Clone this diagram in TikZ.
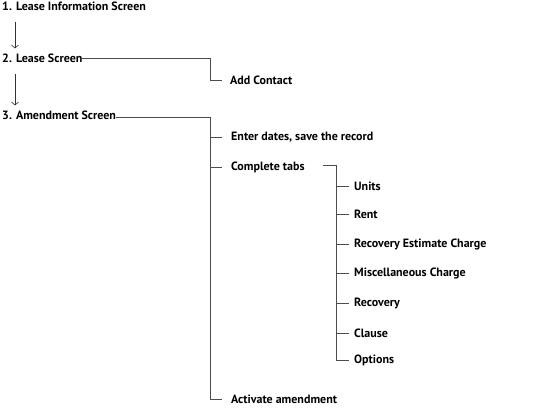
\documentclass[tikz,border=0pt]{standalone}
\usepackage{fontspec}
\setmainfont{PT Sans}
\usetikzlibrary{arrows.meta}

\begin{document}
\begin{tikzpicture}[x=1pt,y=-1pt,
  step text/.style={anchor=west, inner sep=1pt, font=\fontsize{12}{14}\selectfont\bfseries},
  link/.style={draw=black!70, line width=0.9pt},
  flow/.style={draw=black!80, line width=0.6pt, -{Straight Barb[length=3pt,width=7pt]}}]

 \useasboundingbox (0,0) rectangle (548,414);

 % main screens
 \node[step text] (lis) at (1,6) {1. Lease Information Screen};
 \node[step text] (ls)  at (1,58) {2. Lease Screen};
 \node[step text] (ams) at (1,115) {3. Amendment Screen};

 \draw[flow] ([xshift=14pt,yshift=-10pt]lis.south west) -- ([xshift=14pt,yshift=4pt]ls.north west);
 \draw[flow] ([xshift=14pt,yshift=-10pt]ls.south west) -- ([xshift=14pt,yshift=4pt]ams.north west);

 % lease screen branch
 \coordinate (lsjoin) at (210,58);
 \node[step text] (addc) at (229,80) {Add Contact};
 \draw[link] ([xshift=-2pt]ls.east) -- (lsjoin) |- ([xshift=-7pt]addc.west);

 % amendment screen branch
 \coordinate (amjoin) at (210,117);
 \node[step text] (dates) at (230,137) {Enter dates, save the record};
 \node[step text] (tabs)  at (230,167) {Complete tabs};
 \node[step text] (act)   at (230,399) {Activate amendment};
 \draw[link] ([xshift=-1pt,yshift=-2pt]ams.east) -- (amjoin) |- ([xshift=-8pt]act.west);
 \draw[link] (amjoin |- dates.west) -- ([xshift=-8pt]dates.west);
 \draw[link] (amjoin |- tabs.west) -- ([xshift=-8pt]tabs.west);

 % tabs
 \coordinate (tabjoin) at (336,165);
 \draw[link] (323,165) -- (tabjoin);
 \foreach \id/\txt/\y in {units/Units/186, rent/Rent/214, rec/Recovery Estimate Charge/244,
   misc/Miscellaneous Charge/273, recov/Recovery/303, clause/Clause/333, opt/Options/360}
 {
   \node[step text] (\id) at (353,\y) {\txt};
   \draw[link] (tabjoin |- \id.west) -- ([xshift=-4pt]\id.west);
 }
 \draw[link] (tabjoin) -- (tabjoin |- opt.west);

\end{tikzpicture}
\end{document}
